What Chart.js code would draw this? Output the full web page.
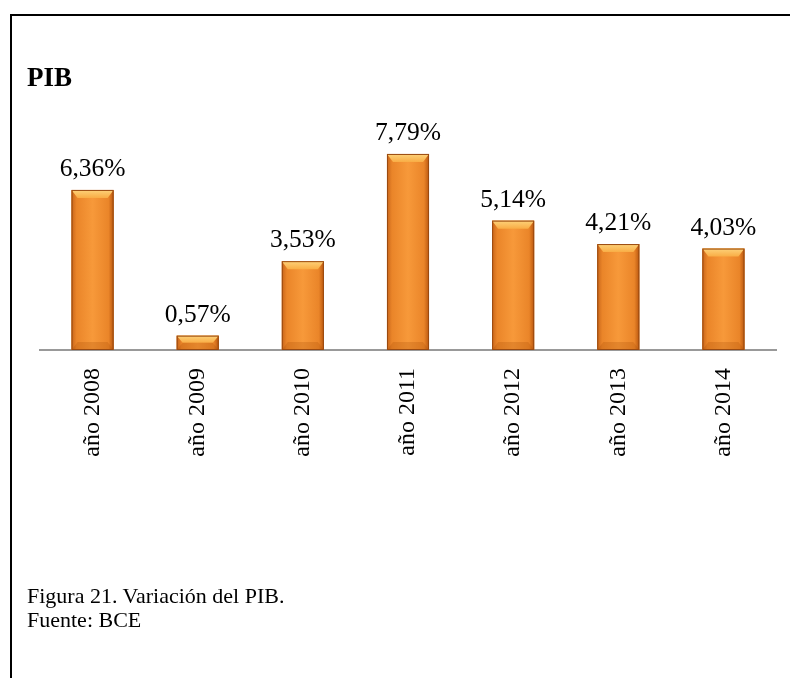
<!DOCTYPE html>
<html>
<head>
<meta charset="utf-8">
<script src="https://cdn.jsdelivr.net/npm/chart.js@4"></script>
<style>
  html, body { margin: 0; padding: 0; background: #fff; }
  #wrap { position: relative; width: 790px; height: 678px; overflow: hidden; }
  #frame { position: absolute; left: 10px; top: 14px; width: 800px; height: 700px;
           border-top: 2px solid #000; border-left: 2px solid #000; }
  #chart { position: absolute; left: 0; top: 0; }
  .txt { position: absolute; font-family: "Liberation Serif", "Times New Roman", serif; color: #000; }
  #title { left: 27px; top: 64px; font-size: 27px; font-weight: bold; line-height: 1; }
  #caption { left: 27px; top: 584px; font-size: 22px; line-height: 24px; }
</style>
</head>
<body>
<div id="wrap">
  <div id="frame"></div>
  <canvas id="chart" width="790" height="678"></canvas>
  <div class="txt" id="title">PIB</div>
  <div class="txt" id="caption">Figura 21. Variación del PIB.<br>Fuente: BCE</div>
</div>
<script>
const years = ["año 2008", "año 2009", "año 2010", "año 2011", "año 2012", "año 2013", "año 2014"];
const pibValues = [6.36, 0.57, 3.53, 7.79, 5.14, 4.21, 4.03];

// orange bevelled look painted over each bar after chart.js places it
const barLook = {
  id: "barLook",
  afterDatasetsDraw(chart) {
    const ctx = chart.ctx;
    ctx.save();
    chart.getDatasetMeta(0).data.forEach((bar, i) => {
      const l = bar.x - bar.width / 2, r = bar.x + bar.width / 2;
      const top = bar.y, bottom = bar.base;
      const bev = Math.min(8, (bottom - top) / 2);

      const g = ctx.createLinearGradient(l, 0, r, 0);
      g.addColorStop(0, "#c8651a");
      g.addColorStop(0.12, "#ea8529");
      g.addColorStop(0.5, "#f7993a");
      g.addColorStop(0.88, "#ea8529");
      g.addColorStop(1, "#b9570f");
      ctx.fillStyle = g;
      ctx.fillRect(l, top, bar.width, bottom - top);

      // top bevel
      const tg = ctx.createLinearGradient(0, top, 0, top + bev);
      tg.addColorStop(0, "#fdd27a");
      tg.addColorStop(1, "#f9ad45");
      ctx.fillStyle = tg;
      ctx.beginPath();
      ctx.moveTo(l, top);
      ctx.lineTo(r, top);
      ctx.lineTo(r - 6, top + bev);
      ctx.lineTo(l + 6, top + bev);
      ctx.closePath();
      ctx.fill();

      // bottom shade
      ctx.fillStyle = "rgba(160,70,0,0.22)";
      ctx.beginPath();
      ctx.moveTo(l, bottom);
      ctx.lineTo(r, bottom);
      ctx.lineTo(r - 6, bottom - bev);
      ctx.lineTo(l + 6, bottom - bev);
      ctx.closePath();
      ctx.fill();

      ctx.strokeStyle = "#9a4a10";
      ctx.lineWidth = 1;
      ctx.strokeRect(l + 0.5, top + 0.5, bar.width - 1, bottom - top - 1);

      // value label
      ctx.fillStyle = "#000";
      ctx.font = "25.5px 'Liberation Serif', 'Times New Roman', serif";
      ctx.textAlign = "center";
      ctx.textBaseline = "alphabetic";
      ctx.fillText(pibValues[i].toFixed(2).replace(".", ",") + "%", bar.x, top - 14);
    });
    ctx.restore();
  }
};

new Chart(document.getElementById("chart"), {
  type: "bar",
  data: {
    labels: years,
    datasets: [{
      data: pibValues,
      backgroundColor: "#f08c28",
      borderWidth: 0,
      barPercentage: 0.4,
      categoryPercentage: 1
    }]
  },
  options: {
    responsive: false,
    animation: false,
    layout: { padding: { top: 123.5, left: 40, right: 14, bottom: 198 } },
    plugins: { legend: { display: false }, tooltip: { enabled: false } },
    scales: {
      x: {
        grid: { display: false },
        border: { display: true, color: "#999999", width: 2 },
        ticks: {
          minRotation: 90,
          maxRotation: 90,
          padding: 10,
          color: "#000",
          font: { family: "'Liberation Serif', 'Times New Roman', serif", size: 24 }
        },
        afterFit: s => { s.height = 130; }
      },
      y: { display: false, min: 0, max: 9 }
    }
  },
  plugins: [barLook]
});
</script>
</body>
</html>
